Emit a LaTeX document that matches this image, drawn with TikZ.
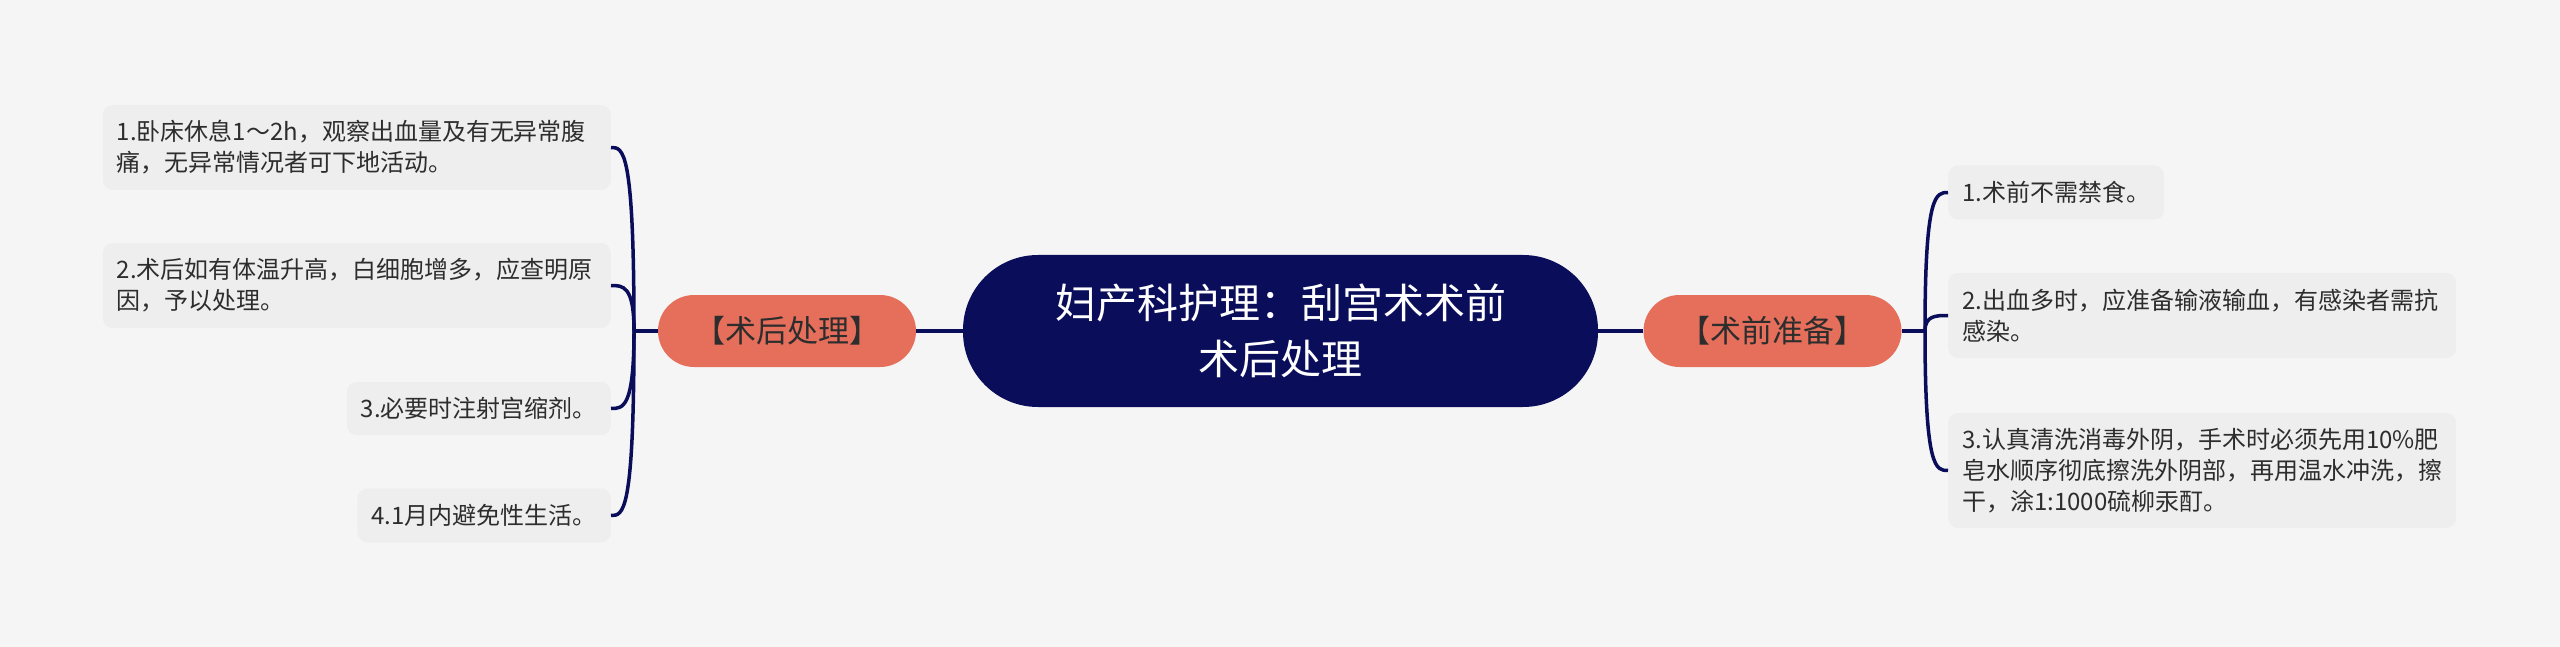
\documentclass[tikz,border=0pt]{standalone}
\usepackage{fontspec}
\setmainfont{Noto Sans CJK SC}
\definecolor{bg}{RGB}{245,245,245}
\definecolor{navy}{RGB}{10,14,90}
\definecolor{coral}{RGB}{229,111,91}
\definecolor{leaf}{RGB}{238,238,238}
\definecolor{ink}{RGB}{45,45,45}
\begin{document}
\begin{tikzpicture}[x=1pt,y=-1pt,
  leafbox/.style={fill=leaf, rounded corners=10pt, text=ink, font=\fontsize{24pt}{31pt}\selectfont, inner xsep=14pt, inner ysep=0pt, align=left},
  wideleaf/.style={leafbox, text width=480pt},
  topicbox/.style={fill=coral, rounded corners=36pt, minimum width=258pt, minimum height=72pt, text=ink, font=\fontsize{31pt}{36pt}\selectfont, inner sep=0pt},
  rootbox/.style={fill=navy, rounded corners=75pt, minimum width=635pt, minimum height=152pt, text=white, font=\fontsize{41pt}{56pt}\selectfont, align=center, inner sep=0pt},
  link/.style={draw=navy, line width=3.5pt}]
\useasboundingbox (0,0) rectangle (2560,647);
\fill[bg] (0,0) rectangle (2560,647);

\node[rootbox] (root) at (1280.5,331) {妇产科护理：刮宫术术前\\术后处理};
\node[topicbox] (lt) at (787,331) {【术后处理】};
\node[topicbox] (rt) at (1772.5,331) {【术前准备】};

\node[wideleaf, minimum height=85pt, anchor=east] (l1) at (611,147.5) {1.卧床休息1～2h，观察出血量及有无异常腹\\痛，无异常情况者可下地活动。};
\node[wideleaf, minimum height=85pt, anchor=east] (l2) at (611,285.5) {2.术后如有体温升高，白细胞增多，应查明原\\因，予以处理。};
\node[leafbox, minimum height=53pt, anchor=east] (l3) at (611,408.5) {3.必要时注射宫缩剂。};
\node[leafbox, minimum height=54pt, anchor=east] (l4) at (611,515.5) {4.1月内避免性生活。};

\node[leafbox, minimum height=54pt, anchor=west] (r1) at (1948,192.5) {1.术前不需禁食。};
\node[wideleaf, minimum height=85pt, anchor=west] (r2) at (1948,315.5) {2.出血多时，应准备输液输血，有感染者需抗\\感染。};
\node[wideleaf, minimum height=115pt, anchor=west] (r3) at (1948,470.5) {3.认真清洗消毒外阴，手术时必须先用10\%肥\\皂水顺序彻底擦洗外阴部，再用温水冲洗，擦\\干，涂1:1000硫柳汞酊。};

\coordinate (lj) at (634,331);
\coordinate (rj) at (1925,331);
\draw[link] (root.west) -- (lt.east);
\draw[link] (root.east) -- (rt.west);
\draw[link] (lt.west) -- (lj);
\draw[link] (rt.east) -- (rj);
\foreach \n in {l1,l2,l3,l4}
  \draw[link] (lj) .. controls (lj |- \n.east) and ([xshift=12pt]\n.east) .. (\n.east);
\foreach \n in {r1,r2,r3}
  \draw[link] (rj) .. controls (rj |- \n.west) and ([xshift=-12pt]\n.west) .. (\n.west);
\end{tikzpicture}
\end{document}
